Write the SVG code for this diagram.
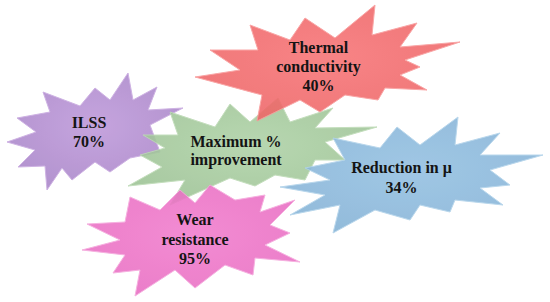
<svg xmlns="http://www.w3.org/2000/svg" width="550" height="302" viewBox="0 0 550 302">
<defs>
<style>
.burst{stroke-width:1;stroke-linejoin:miter;opacity:0.88}
.lbl{font-family:"Liberation Serif","Times New Roman",serif;font-weight:bold;font-size:16px;fill:#141414;text-anchor:middle}
</style>
<radialGradient id="gP" cx="50%" cy="45%" r="60%"><stop offset="0" stop-color="#BE98DA"/><stop offset="1" stop-color="#A884C8"/></radialGradient>
<radialGradient id="gG" cx="50%" cy="45%" r="60%"><stop offset="0" stop-color="#AED2A6"/><stop offset="1" stop-color="#9CC294"/></radialGradient>
<radialGradient id="gR" cx="50%" cy="45%" r="60%"><stop offset="0" stop-color="#F77375"/><stop offset="1" stop-color="#EE6466"/></radialGradient>
<radialGradient id="gB" cx="50%" cy="45%" r="60%"><stop offset="0" stop-color="#93C0E2"/><stop offset="1" stop-color="#84B2D6"/></radialGradient>
<radialGradient id="gK" cx="50%" cy="45%" r="60%"><stop offset="0" stop-color="#F27CCD"/><stop offset="1" stop-color="#E86CC2"/></radialGradient>
</defs>
<rect width="550" height="302" fill="#ffffff"/>
<g id="ilss">
<polygon class="burst" fill="url(#gP)" stroke="#C8A8E0" points="128,73 133,100 157,87 148,110 183,108 150,125 160,152 130,158 110,172 95,162 72,180 62,168 47,190 45,166 18,167 35,150 7,142 36,132 17,118 50,112 43,92 80,106 95,88 110,100"/>
<text class="lbl" x="89" y="128">ILSS</text>
<text class="lbl" x="89" y="147">70%</text>
</g>
<g id="maximum">
<polygon class="burst" fill="url(#gG)" stroke="#BCDAB4" points="170,112 215,127 230,104 250,122 278,98 290,122 333,108 315,128 377,127 325,142 345,160 315,160 305,180 275,175 255,186 230,178 170,205 185,180 128,186 162,167 140,155 165,148 143,135 178,135"/>
<text class="lbl" x="236" y="146.5">Maximum %</text>
<text class="lbl" x="236" y="165">improvement</text>
</g>
<g id="thermal">
<polygon class="burst" fill="url(#gR)" stroke="#F99A9A" points="250,25 290,40 305,18 335,38 375,5 372,35 417,23 400,47 460,42 405,60 420,67 400,75 427,90 385,88 378,100 345,95 320,112 300,100 257,121 262,95 195,77 240,70 210,50 258,50"/>
<text class="lbl" x="318.5" y="53">Thermal</text>
<text class="lbl" x="318.5" y="72">conductivity</text>
<text class="lbl" x="318.5" y="91">40%</text>
</g>
<g id="reduction">
<polygon class="burst" fill="url(#gB)" stroke="#B0D2EA" points="333,138 380,148 397,127 420,145 458,117 455,145 500,133 480,155 543,155 490,170 510,185 480,188 503,205 455,200 450,212 420,205 410,220 375,210 333,233 340,205 290,215 325,195 280,187 330,180 305,168 345,160"/>
<text class="lbl" x="401.5" y="173">Reduction in μ</text>
<text class="lbl" x="401.5" y="192.5">34%</text>
</g>
<g id="wear">
<polygon class="burst" fill="url(#gK)" stroke="#F5A6DC" points="130,197 160,210 180,190 195,203 210,185 235,200 265,195 260,212 295,200 270,225 290,233 265,245 300,262 255,258 253,275 225,265 195,288 175,270 135,296 140,270 113,273 125,255 82,250 120,240 87,224 125,222"/>
<text class="lbl" x="195" y="225">Wear</text>
<text class="lbl" x="195" y="244.5">resistance</text>
<text class="lbl" x="195" y="263.5">95%</text>
</g>
<g id="connectors"/>
</svg>
